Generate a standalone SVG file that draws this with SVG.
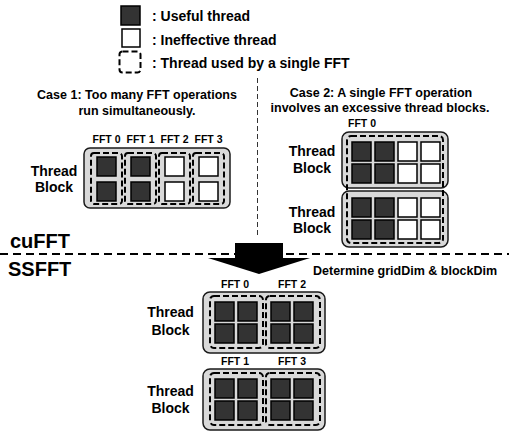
<svg xmlns="http://www.w3.org/2000/svg" width="509" height="436" viewBox="0 0 509 436">
<style>
.useful{fill:#333;stroke:#000;stroke-width:1.5}
.idle{fill:#fff;stroke:#000;stroke-width:1.5}
.block{fill:#d9d9d9;stroke:#1a1a1a;stroke-width:1.5}
.fft{fill:none;stroke:#000;stroke-width:2;stroke-dasharray:6 3}
text{font-family:"Liberation Sans",Arial,sans-serif;font-weight:bold;fill:#000}
.leg{font-size:14px}
.case{font-size:12.5px;text-anchor:middle}
.lbl{font-size:10.5px;text-anchor:middle}
.tb{font-size:14px;text-anchor:middle}
.big{font-size:20px}
</style>
<rect width="509" height="436" fill="#fff"/>
<g id="legend">
<rect class="useful" x="121" y="6" width="19" height="19"/>
<rect class="idle" x="122" y="29" width="18" height="18"/>
<rect class="fft" x="119.5" y="51.5" width="21" height="21" rx="3"/>
<text class="leg" x="152" y="21">: Useful thread</text>
<text class="leg" x="152" y="44.5">: Ineffective thread</text>
<text class="leg" x="152" y="68">: Thread used by a single FFT</text>
</g>
<g id="case1">
<text class="case" x="137" y="99">Case 1: Too many FFT operations</text>
<text class="case" x="137" y="115">run simultaneously.</text>
<text class="lbl" x="106.5" y="143">FFT 0</text>
<text class="lbl" x="140.5" y="143">FFT 1</text>
<text class="lbl" x="174.5" y="143">FFT 2</text>
<text class="lbl" x="208.5" y="143">FFT 3</text>
<text class="tb" x="54" y="176">Thread</text>
<text class="tb" x="54" y="192">Block</text>
<rect class="block" x="84" y="148" width="146" height="60" rx="6"/>
<rect class="fft" x="91" y="153" width="31" height="51" rx="3"/>
<rect class="fft" x="125" y="153" width="31" height="51" rx="3"/>
<rect class="fft" x="159" y="153" width="31" height="51" rx="3"/>
<rect class="fft" x="193" y="153" width="31" height="51" rx="3"/>
<rect class="useful" x="97" y="157" width="19" height="19"/>
<rect class="useful" x="97" y="182" width="19" height="19"/>
<rect class="useful" x="131" y="157" width="19" height="19"/>
<rect class="useful" x="131" y="182" width="19" height="19"/>
<rect class="idle" x="165" y="157" width="19" height="19"/>
<rect class="idle" x="165" y="182" width="19" height="19"/>
<rect class="idle" x="199" y="157" width="19" height="19"/>
<rect class="idle" x="199" y="182" width="19" height="19"/>
</g>
<g id="case2">
<text class="case" x="381" y="97">Case 2: A single FFT operation</text>
<text class="case" x="380" y="112">involves an excessive thread blocks.</text>
<text class="lbl" x="362" y="127">FFT 0</text>
<text class="tb" x="312" y="156">Thread</text>
<text class="tb" x="312" y="173">Block</text>
<text class="tb" x="312" y="217">Thread</text>
<text class="tb" x="312" y="233">Block</text>
<rect class="block" x="342" y="132" width="106" height="56" rx="7"/>
<rect class="block" x="342" y="191" width="106" height="56" rx="7"/>
<rect class="fft" x="347" y="136" width="96" height="107" rx="4"/>
<rect class="useful" x="352" y="142" width="19" height="19"/>
<rect class="useful" x="375" y="142" width="19" height="19"/>
<rect class="idle" x="398" y="142" width="19" height="19"/>
<rect class="idle" x="421" y="142" width="19" height="19"/>
<rect class="useful" x="352" y="164" width="19" height="19"/>
<rect class="useful" x="375" y="164" width="19" height="19"/>
<rect class="idle" x="398" y="164" width="19" height="19"/>
<rect class="idle" x="421" y="164" width="19" height="19"/>
<rect class="useful" x="352" y="198" width="19" height="19"/>
<rect class="useful" x="375" y="198" width="19" height="19"/>
<rect class="idle" x="398" y="198" width="19" height="19"/>
<rect class="idle" x="421" y="198" width="19" height="19"/>
<rect class="useful" x="352" y="220" width="19" height="19"/>
<rect class="useful" x="375" y="220" width="19" height="19"/>
<rect class="idle" x="398" y="220" width="19" height="19"/>
<rect class="idle" x="421" y="220" width="19" height="19"/>
</g>
<g id="divider">
<line x1="257.5" y1="78" x2="257.5" y2="238" stroke="#333" stroke-width="1" stroke-dasharray="5 3"/>
<line x1="0" y1="254" x2="509" y2="254" stroke="#000" stroke-width="2" stroke-dasharray="8 5"/>
<text class="big" x="10" y="248">cuFFT</text>
<text class="big" x="8" y="276">SSFFT</text>
</g>
<g id="connectors">
<polygon points="235,243 283,243 283,258 310,258 259,274 208,258 235,258" fill="#000"/>
<text x="313" y="275" style="font-size:12.5px">Determine gridDim &amp; blockDim</text>
</g>
<g id="ssfft">
<text class="lbl" x="235" y="288">FFT 0</text>
<text class="lbl" x="292" y="288">FFT 2</text>
<text class="lbl" x="235" y="365">FFT 1</text>
<text class="lbl" x="292" y="365">FFT 3</text>
<text class="tb" x="170.5" y="317">Thread</text>
<text class="tb" x="170.5" y="335">Block</text>
<text class="tb" x="170.5" y="396">Thread</text>
<text class="tb" x="170.5" y="413">Block</text>
<rect class="block" x="203" y="292" width="122" height="61" rx="7"/>
<rect class="fft" x="210" y="296" width="53" height="52" rx="4"/>
<rect class="fft" x="266" y="296" width="54" height="52" rx="4"/>
<rect class="useful" x="215" y="302" width="19" height="19"/>
<rect class="useful" x="238" y="302" width="19" height="19"/>
<rect class="useful" x="271" y="302" width="19" height="19"/>
<rect class="useful" x="294" y="302" width="19" height="19"/>
<rect class="useful" x="215" y="324" width="19" height="19"/>
<rect class="useful" x="238" y="324" width="19" height="19"/>
<rect class="useful" x="271" y="324" width="19" height="19"/>
<rect class="useful" x="294" y="324" width="19" height="19"/>
<rect class="block" x="203" y="369" width="122" height="61" rx="7"/>
<rect class="fft" x="210" y="373" width="53" height="52" rx="4"/>
<rect class="fft" x="266" y="373" width="54" height="52" rx="4"/>
<rect class="useful" x="215" y="379" width="19" height="19"/>
<rect class="useful" x="238" y="379" width="19" height="19"/>
<rect class="useful" x="271" y="379" width="19" height="19"/>
<rect class="useful" x="294" y="379" width="19" height="19"/>
<rect class="useful" x="215" y="401" width="19" height="19"/>
<rect class="useful" x="238" y="401" width="19" height="19"/>
<rect class="useful" x="271" y="401" width="19" height="19"/>
<rect class="useful" x="294" y="401" width="19" height="19"/>
</g>
</svg>
